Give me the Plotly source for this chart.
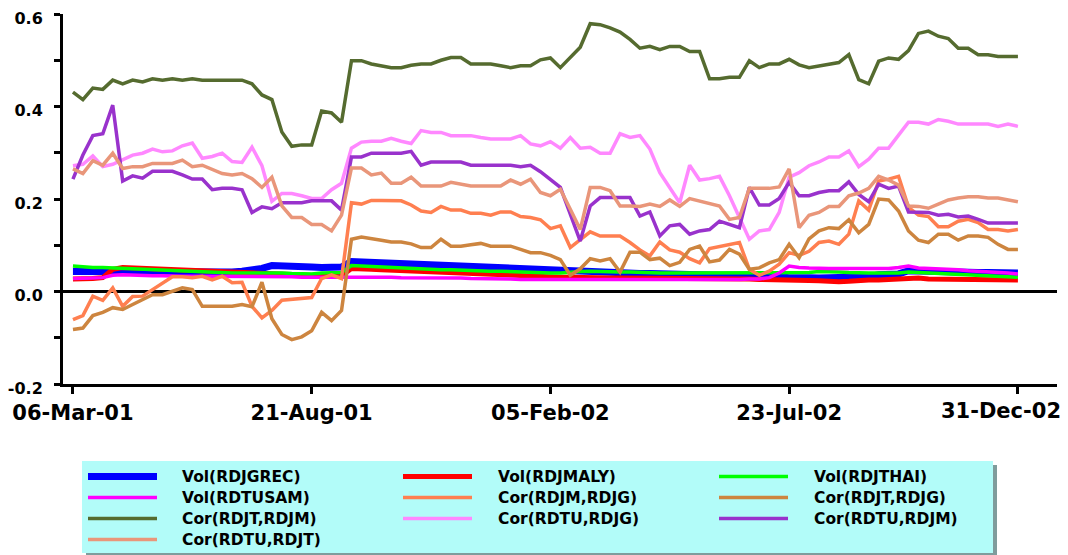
import pandas as pd
import plotly.graph_objects as go

# ---------------- data ----------------
start_date = "2001-03-06"
n_weeks = 96
dates = pd.date_range(start_date, periods=n_weeks, freq="7D")

x_tick_dates = ["2001-03-06", "2001-08-21", "2002-02-05", "2002-07-23", "2002-12-31"]
x_tick_labels = ["06-Mar-01", "21-Aug-01", "05-Feb-02", "23-Jul-02", "31-Dec-02"]
y_tick_vals = [-0.2, -0.1, 0.0, 0.1, 0.2, 0.3, 0.4, 0.5, 0.6]
y_tick_labels = ["-0.2", "", "0.0", "", "0.2", "", "0.4", "", "0.6"]

vol_rdjgrec = [0.043,0.043,0.043,0.042,0.041,0.040,0.040,0.040,0.041,0.041,
               0.040,0.040,0.041,0.040,0.041,0.042,0.042,0.044,0.046,0.050,
               0.056,0.056,0.055,0.054,0.053,0.052,0.052,0.053,0.065,0.064,
               0.063,0.062,0.061,0.060,0.059,0.058,0.057,0.056,0.055,0.054,
               0.053,0.052,0.051,0.050,0.049,0.048,0.047,0.046,0.045,0.044,
               0.044,0.043,0.042,0.041,0.041,0.040,0.040,0.039,0.039,0.038,
               0.037,0.037,0.036,0.036,0.036,0.035,0.035,0.035,0.034,0.033,
               0.033,0.032,0.030,0.031,0.030,0.029,0.029,0.030,0.030,0.031,
               0.032,0.036,0.037,0.038,0.045,0.044,0.043,0.043,0.042,0.042,
               0.041,0.041,0.041,0.040,0.040,0.040]

vol_rdjmaly = [0.027,0.027,0.028,0.030,0.048,0.052,0.051,0.050,0.049,0.048,
               0.047,0.046,0.045,0.044,0.043,0.042,0.041,0.040,0.039,0.038,
               0.037,0.036,0.035,0.034,0.034,0.034,0.035,0.034,0.050,0.050,
               0.048,0.047,0.046,0.045,0.044,0.043,0.042,0.041,0.040,0.039,
               0.038,0.037,0.036,0.035,0.034,0.034,0.033,0.032,0.032,0.031,
               0.031,0.030,0.030,0.030,0.029,0.029,0.029,0.028,0.028,0.028,
               0.028,0.028,0.027,0.027,0.027,0.027,0.027,0.027,0.027,0.026,
               0.026,0.026,0.025,0.024,0.024,0.023,0.021,0.021,0.022,0.024,
               0.025,0.025,0.026,0.026,0.029,0.029,0.027,0.027,0.027,0.027,
               0.027,0.027,0.027,0.026,0.025,0.025]

vol_rdjthai = [0.055,0.053,0.052,0.052,0.051,0.050,0.049,0.048,0.047,0.046,
               0.045,0.044,0.043,0.042,0.042,0.041,0.040,0.040,0.040,0.040,
               0.041,0.040,0.039,0.039,0.038,0.040,0.041,0.041,0.056,0.055,
               0.053,0.052,0.051,0.050,0.050,0.049,0.048,0.047,0.047,0.046,
               0.046,0.045,0.044,0.044,0.043,0.043,0.042,0.041,0.040,0.040,
               0.042,0.043,0.044,0.043,0.043,0.042,0.042,0.041,0.040,0.040,
               0.040,0.040,0.040,0.040,0.040,0.040,0.040,0.040,0.040,0.040,
               0.040,0.040,0.040,0.040,0.041,0.043,0.043,0.042,0.041,0.040,
               0.040,0.040,0.040,0.040,0.042,0.041,0.040,0.038,0.037,0.036,
               0.035,0.035,0.034,0.033,0.032,0.031]

vol_rdtusam = [0.028,0.028,0.029,0.030,0.035,0.036,0.035,0.034,0.034,0.034,
               0.033,0.033,0.033,0.033,0.033,0.032,0.032,0.032,0.032,0.032,
               0.032,0.032,0.032,0.031,0.031,0.031,0.031,0.031,0.032,0.032,
               0.032,0.032,0.031,0.030,0.030,0.030,0.030,0.029,0.029,0.029,
               0.028,0.028,0.027,0.027,0.027,0.026,0.026,0.026,0.025,0.025,
               0.025,0.026,0.026,0.025,0.025,0.025,0.025,0.025,0.025,0.025,
               0.025,0.025,0.025,0.025,0.025,0.025,0.025,0.026,0.027,0.027,
               0.030,0.040,0.055,0.052,0.051,0.050,0.050,0.050,0.050,0.050,
               0.050,0.050,0.050,0.052,0.055,0.051,0.050,0.050,0.049,0.047,
               0.045,0.044,0.043,0.042,0.040,0.038]

cor_rdjm_rdjg = [-0.061,-0.052,-0.010,-0.019,0.008,-0.032,-0.011,-0.010,0.004,0.019,
                 0.032,0.032,0.030,0.033,0.025,0.033,0.019,0.020,-0.032,-0.057,
                 -0.041,-0.019,-0.017,-0.015,-0.013,0.028,0.036,0.028,0.192,0.189,
                 0.197,0.197,0.197,0.196,0.187,0.174,0.171,0.184,0.176,0.176,
                 0.169,0.169,0.165,0.172,0.172,0.162,0.160,0.155,0.136,0.142,
                 0.095,0.113,0.129,0.120,0.120,0.120,0.106,0.090,0.077,0.107,
                 0.090,0.085,0.071,0.062,0.093,0.097,0.102,0.106,0.048,0.035,
                 0.044,0.059,0.084,0.078,0.087,0.106,0.109,0.102,0.124,0.196,
                 0.176,0.239,0.243,0.249,0.182,0.165,0.162,0.140,0.140,0.152,
                 0.156,0.149,0.134,0.134,0.131,0.134]

cor_rdjt_rdjg = [-0.082,-0.079,-0.052,-0.045,-0.035,-0.039,-0.028,-0.017,-0.007,-0.007,
                 0.001,0.008,0.004,-0.032,-0.032,-0.032,-0.032,-0.028,-0.033,0.020,
                 -0.059,-0.093,-0.104,-0.098,-0.085,-0.045,-0.063,-0.041,0.113,0.118,
                 0.115,0.111,0.107,0.107,0.103,0.095,0.095,0.113,0.098,0.098,
                 0.101,0.104,0.098,0.098,0.098,0.091,0.084,0.084,0.078,0.069,
                 0.035,0.049,0.071,0.066,0.071,0.042,0.085,0.085,0.069,0.072,
                 0.056,0.063,0.091,0.098,0.064,0.068,0.091,0.081,0.048,0.051,
                 0.062,0.069,0.102,0.073,0.114,0.131,0.138,0.136,0.155,0.127,
                 0.145,0.200,0.198,0.174,0.131,0.111,0.106,0.124,0.124,0.111,
                 0.120,0.120,0.117,0.102,0.091,0.091]

cor_rdjt_rdjm = [0.431,0.415,0.440,0.437,0.457,0.449,0.457,0.453,0.460,0.457,
                 0.460,0.457,0.460,0.457,0.457,0.457,0.457,0.457,0.449,0.425,
                 0.415,0.345,0.314,0.317,0.317,0.390,0.386,0.366,0.499,0.499,
                 0.492,0.488,0.484,0.484,0.489,0.492,0.492,0.500,0.506,0.506,
                 0.492,0.492,0.492,0.488,0.484,0.488,0.488,0.501,0.505,0.484,
                 0.506,0.528,0.579,0.577,0.570,0.561,0.545,0.526,0.530,0.523,
                 0.530,0.530,0.519,0.519,0.460,0.460,0.463,0.463,0.499,0.484,
                 0.492,0.492,0.502,0.490,0.484,0.488,0.492,0.495,0.512,0.458,
                 0.449,0.498,0.505,0.502,0.521,0.558,0.563,0.552,0.547,0.526,
                 0.526,0.512,0.512,0.508,0.508,0.508]

cor_rdtu_rdjg = [0.272,0.275,0.293,0.270,0.275,0.285,0.295,0.299,0.308,0.302,
                 0.304,0.315,0.321,0.288,0.292,0.299,0.281,0.279,0.312,0.272,
                 0.195,0.212,0.212,0.207,0.201,0.201,0.220,0.234,0.310,0.323,
                 0.325,0.325,0.331,0.325,0.320,0.348,0.344,0.344,0.337,0.337,
                 0.337,0.333,0.330,0.330,0.330,0.337,0.319,0.315,0.324,0.310,
                 0.333,0.310,0.312,0.299,0.299,0.341,0.333,0.337,0.308,0.257,
                 0.225,0.192,0.273,0.241,0.244,0.249,0.207,0.160,0.113,0.131,
                 0.134,0.171,0.247,0.257,0.272,0.280,0.291,0.291,0.304,0.270,
                 0.286,0.310,0.310,0.338,0.366,0.366,0.362,0.372,0.368,0.362,
                 0.362,0.362,0.362,0.357,0.362,0.357]

cor_rdtu_rdjm = [0.243,0.295,0.337,0.341,0.403,0.239,0.250,0.245,0.260,0.260,
                 0.260,0.252,0.243,0.243,0.220,0.223,0.223,0.220,0.171,0.183,
                 0.179,0.192,0.192,0.192,0.196,0.196,0.196,0.176,0.291,0.291,
                 0.299,0.299,0.299,0.299,0.303,0.273,0.280,0.280,0.280,0.280,
                 0.273,0.273,0.273,0.273,0.273,0.270,0.273,0.259,0.243,0.225,
                 0.167,0.109,0.185,0.203,0.203,0.203,0.203,0.163,0.172,0.120,
                 0.142,0.145,0.124,0.131,0.134,0.152,0.145,0.138,0.225,0.187,
                 0.187,0.201,0.236,0.207,0.207,0.214,0.218,0.218,0.237,0.210,
                 0.194,0.232,0.223,0.228,0.172,0.171,0.171,0.165,0.167,0.161,
                 0.163,0.156,0.148,0.148,0.148,0.148]

cor_rdtu_rdjt = [0.265,0.255,0.283,0.273,0.299,0.266,0.270,0.270,0.277,0.277,
                 0.277,0.284,0.270,0.273,0.265,0.255,0.252,0.255,0.244,0.225,
                 0.247,0.185,0.160,0.160,0.145,0.145,0.131,0.165,0.267,0.267,
                 0.252,0.256,0.234,0.234,0.247,0.228,0.228,0.228,0.236,0.232,
                 0.228,0.228,0.228,0.228,0.241,0.232,0.243,0.214,0.207,0.221,
                 0.178,0.134,0.225,0.225,0.218,0.185,0.185,0.184,0.189,0.184,
                 0.198,0.184,0.201,0.196,0.191,0.185,0.156,0.160,0.223,0.223,
                 0.223,0.226,0.265,0.138,0.165,0.171,0.184,0.184,0.207,0.213,
                 0.223,0.249,0.241,0.230,0.185,0.184,0.180,0.189,0.198,0.202,
                 0.205,0.205,0.202,0.202,0.198,0.194]

series_names = ["Vol(RDJGREC)", "Vol(RDJMALY)", "Vol(RDJTHAI)",
                "Vol(RDTUSAM)", "Cor(RDJM,RDJG)", "Cor(RDJT,RDJG)",
                "Cor(RDJT,RDJM)", "Cor(RDTU,RDJG)", "Cor(RDTU,RDJM)",
                "Cor(RDTU,RDJT)"]
series_values = [vol_rdjgrec, vol_rdjmaly, vol_rdjthai, vol_rdtusam,
                 cor_rdjm_rdjg, cor_rdjt_rdjg, cor_rdjt_rdjm,
                 cor_rdtu_rdjg, cor_rdtu_rdjm, cor_rdtu_rdjt]

# ---------------- styles ----------------
colors = ["#0000FF", "#FF0000", "#00FF00", "#FF00FF", "#FF7F50", "#CD853F",
          "#556B2F", "#FF88FF", "#9932CC", "#E9967A"]
widths = [7, 5, 3.5, 3.5, 3.5, 3.5, 3.5, 3.5, 3.5, 3.5]

OFF = 8                      # browser body margin
W, H = 1068 - OFF, 555 - OFF
L, R, T, B = 63 - OFF, 1057 - OFF, 14 - OFF, 384 - OFF
BOLD = dict(family="DejaVu Sans", color="black", weight="bold")

fig = go.Figure()
for name, vals, c, w in zip(series_names, series_values, colors, widths):
    fig.add_trace(go.Scatter(x=dates, y=vals, mode="lines", name=name,
                             line=dict(color=c, width=w), showlegend=False))

def px_x(p):   # screen pixel -> paper
    return (p - OFF - L) / (R - L)

def px_y(p):
    return (B - (p - OFF)) / (B - T)

shapes = []
annotations = []
# legend box + shadow
shapes.append(dict(type="rect", xref="paper", yref="paper", layer="below",
                   x0=px_x(86), x1=px_x(997), y0=px_y(557), y1=px_y(465),
                   fillcolor="#7F9C9C", line=dict(width=0)))
shapes.append(dict(type="rect", xref="paper", yref="paper", layer="below",
                   x0=px_x(82), x1=px_x(993), y0=px_y(553), y1=px_y(461),
                   fillcolor="#B2FCF9", line=dict(width=0)))
col_line_x = [88, 403, 719]
col_text_x = [180, 496, 812]
for k, (name, c, w) in enumerate(zip(series_names, colors, widths)):
    r, col = divmod(k, 3)
    yy = 476.5 + 21 * r
    shapes.append(dict(type="line", xref="paper", yref="paper",
                       x0=px_x(col_line_x[col]), x1=px_x(col_line_x[col] + 69),
                       y0=px_y(yy), y1=px_y(yy), line=dict(color=c, width=w)))
    annotations.append(dict(xref="paper", yref="paper", x=px_x(col_text_x[col]),
                            y=px_y(yy), text=name, showarrow=False,
                            xanchor="left", yanchor="middle",
                            font=dict(size=15.5, **BOLD)))

# last x tick label is pulled left so it stays inside the window (as in the reference)
tick_text_shown = x_tick_labels[:-1] + [""]
annotations.append(dict(xref="paper", yref="paper", x=px_x(1063), y=px_y(411),
                        text=x_tick_labels[-1], showarrow=False,
                        xanchor="right", yanchor="middle",
                        font=dict(size=21, **BOLD)))

fig.update_layout(
    width=W, height=H,
    margin=dict(l=L, r=W - R, t=T, b=H - B, autoexpand=False),
    paper_bgcolor="white", plot_bgcolor="white",
    shapes=shapes, annotations=annotations, showlegend=False,
)
fig.update_xaxes(
    range=["2001-02-27", "2003-01-27 12:00"],
    tickvals=x_tick_dates, ticktext=tick_text_shown,
    showgrid=False, zeroline=False, automargin=False,
    ticklabeloverflow="allow",
    showline=True, linecolor="black", linewidth=3,
    ticks="outside", ticklen=7, tickwidth=3, tickcolor="black",
    ticklabelstandoff=1,
    tickfont=dict(size=21, **BOLD),
)
fig.update_yaxes(
    range=[-0.2, 0.6],
    tickvals=y_tick_vals, ticktext=y_tick_labels,
    showgrid=False, automargin=False, ticklabeloverflow="allow",
    zeroline=True, zerolinecolor="black", zerolinewidth=3,
    showline=True, linecolor="black", linewidth=3,
    ticks="outside", ticklen=6, tickwidth=3, tickcolor="black",
    ticklabelstandoff=8, ticklabelshift=4,
    tickfont=dict(size=16, **BOLD),
)

fig.write_html("out.html")
